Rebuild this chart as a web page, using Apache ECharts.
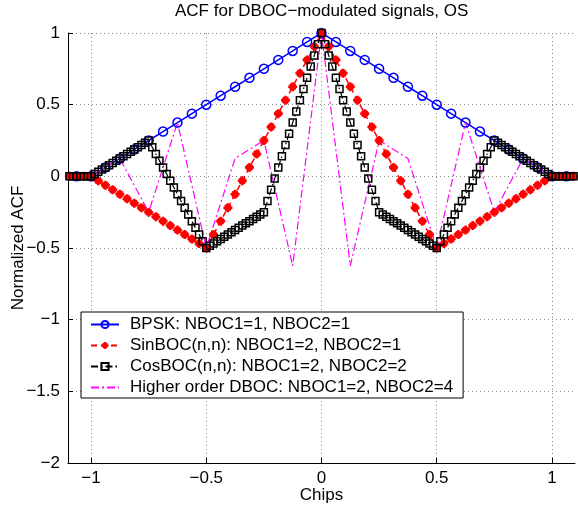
<!DOCTYPE html>
<html>
<head>
<meta charset="utf-8">
<script src="https://cdn.jsdelivr.net/npm/echarts@6/dist/echarts.min.js"></script>
<style>html,body{margin:0;padding:0;background:#fff;}#c{width:578px;height:508px;}</style>
</head>
<body>
<div id="c"></div>
<script>
// ---- data ----
const xTicks = [-1, -0.5, 0, 0.5, 1];

const bpskX = [-1.125, -1.0625, -1, -0.9375, -0.875, -0.8125, -0.75, -0.6875, -0.625, -0.5625, -0.5, -0.4375, -0.375, -0.3125, -0.25, -0.1875, -0.125, -0.0625, 0, 0.0625, 0.125, 0.1875, 0.25, 0.3125, 0.375, 0.4375, 0.5, 0.5625, 0.625, 0.6875, 0.75, 0.8125, 0.875, 0.9375, 1, 1.0625, 1.125];
const bpskY = [0, 0, 0, 0.0625, 0.125, 0.1875, 0.25, 0.3125, 0.375, 0.4375, 0.5, 0.5625, 0.625, 0.6875, 0.75, 0.8125, 0.875, 0.9375, 1, 0.9375, 0.875, 0.8125, 0.75, 0.6875, 0.625, 0.5625, 0.5, 0.4375, 0.375, 0.3125, 0.25, 0.1875, 0.125, 0.0625, 0, 0, 0];

const sinX = [-1.125, -1.09375, -1.0625, -1.03125, -1, -0.96875, -0.9375, -0.90625, -0.875, -0.84375, -0.8125, -0.78125, -0.75, -0.71875, -0.6875, -0.65625, -0.625, -0.59375, -0.5625, -0.53125, -0.5, -0.46875, -0.4375, -0.40625, -0.375, -0.34375, -0.3125, -0.28125, -0.25, -0.21875, -0.1875, -0.15625, -0.125, -0.09375, -0.0625, -0.03125, 0, 0.03125, 0.0625, 0.09375, 0.125, 0.15625, 0.1875, 0.21875, 0.25, 0.28125, 0.3125, 0.34375, 0.375, 0.40625, 0.4375, 0.46875, 0.5, 0.53125, 0.5625, 0.59375, 0.625, 0.65625, 0.6875, 0.71875, 0.75, 0.78125, 0.8125, 0.84375, 0.875, 0.90625, 0.9375, 0.96875, 1, 1.03125, 1.0625, 1.09375, 1.125];
const sinY = [0, 0, 0, 0, 0, -0.03125, -0.0625, -0.09375, -0.125, -0.15625, -0.1875, -0.21875, -0.25, -0.28125, -0.3125, -0.34375, -0.375, -0.40625, -0.4375, -0.46875, -0.5, -0.40625, -0.3125, -0.21875, -0.125, -0.03125, 0.0625, 0.15625, 0.25, 0.34375, 0.4375, 0.53125, 0.625, 0.71875, 0.8125, 0.90625, 1, 0.90625, 0.8125, 0.71875, 0.625, 0.53125, 0.4375, 0.34375, 0.25, 0.15625, 0.0625, -0.03125, -0.125, -0.21875, -0.3125, -0.40625, -0.5, -0.46875, -0.4375, -0.40625, -0.375, -0.34375, -0.3125, -0.28125, -0.25, -0.21875, -0.1875, -0.15625, -0.125, -0.09375, -0.0625, -0.03125, 0, 0, 0, 0, 0];

const cosX = [-1.125, -1.109375, -1.09375, -1.078125, -1.0625, -1.046875, -1.03125, -1.015625, -1, -0.984375, -0.96875, -0.953125, -0.9375, -0.921875, -0.90625, -0.890625, -0.875, -0.859375, -0.84375, -0.828125, -0.8125, -0.796875, -0.78125, -0.765625, -0.75, -0.734375, -0.71875, -0.703125, -0.6875, -0.671875, -0.65625, -0.640625, -0.625, -0.609375, -0.59375, -0.578125, -0.5625, -0.546875, -0.53125, -0.515625, -0.5, -0.484375, -0.46875, -0.453125, -0.4375, -0.421875, -0.40625, -0.390625, -0.375, -0.359375, -0.34375, -0.328125, -0.3125, -0.296875, -0.28125, -0.265625, -0.25, -0.234375, -0.21875, -0.203125, -0.1875, -0.171875, -0.15625, -0.140625, -0.125, -0.109375, -0.09375, -0.078125, -0.0625, -0.046875, -0.03125, -0.015625, 0, 0.015625, 0.03125, 0.046875, 0.0625, 0.078125, 0.09375, 0.109375, 0.125, 0.140625, 0.15625, 0.171875, 0.1875, 0.203125, 0.21875, 0.234375, 0.25, 0.265625, 0.28125, 0.296875, 0.3125, 0.328125, 0.34375, 0.359375, 0.375, 0.390625, 0.40625, 0.421875, 0.4375, 0.453125, 0.46875, 0.484375, 0.5, 0.515625, 0.53125, 0.546875, 0.5625, 0.578125, 0.59375, 0.609375, 0.625, 0.640625, 0.65625, 0.671875, 0.6875, 0.703125, 0.71875, 0.734375, 0.75, 0.765625, 0.78125, 0.796875, 0.8125, 0.828125, 0.84375, 0.859375, 0.875, 0.890625, 0.90625, 0.921875, 0.9375, 0.953125, 0.96875, 0.984375, 1, 1.015625, 1.03125, 1.046875, 1.0625, 1.078125, 1.09375, 1.109375, 1.125];
const cosY = [0, 0, 0, 0, 0, 0, 0, 0, 0,
  0.015625, 0.03125, 0.046875, 0.0625, 0.078125, 0.09375, 0.109375, 0.125, 0.140625, 0.15625, 0.171875, 0.1875, 0.203125, 0.21875, 0.234375,
  0.25,
  0.203125, 0.15625, 0.109375, 0.0625, 0.015625, -0.03125, -0.078125, -0.125, -0.171875, -0.21875, -0.265625, -0.3125, -0.359375, -0.40625, -0.453125,
  -0.5,
  -0.484375, -0.46875, -0.453125, -0.4375, -0.421875, -0.40625, -0.390625, -0.375, -0.359375, -0.34375, -0.328125, -0.3125, -0.296875, -0.28125, -0.265625,
  -0.25,
  -0.171875, -0.09375, -0.015625, 0.0625, 0.140625, 0.21875, 0.296875, 0.375, 0.453125, 0.53125, 0.609375, 0.6875, 0.765625, 0.84375, 0.921875,
  1,
  0.921875, 0.84375, 0.765625, 0.6875, 0.609375, 0.53125, 0.453125, 0.375, 0.296875, 0.21875, 0.140625, 0.0625, -0.015625, -0.09375, -0.171875,
  -0.25,
  -0.265625, -0.28125, -0.296875, -0.3125, -0.328125, -0.34375, -0.359375, -0.375, -0.390625, -0.40625, -0.421875, -0.4375, -0.453125, -0.46875, -0.484375,
  -0.5,
  -0.453125, -0.40625, -0.359375, -0.3125, -0.265625, -0.21875, -0.171875, -0.125, -0.078125, -0.03125, 0.015625, 0.0625, 0.109375, 0.15625, 0.203125,
  0.25,
  0.234375, 0.21875, 0.203125, 0.1875, 0.171875, 0.15625, 0.140625, 0.125, 0.109375, 0.09375, 0.078125, 0.0625, 0.046875, 0.03125, 0.015625,
  0, 0, 0, 0, 0, 0, 0, 0, 0];

const dbocX = [-1.125, -1, -0.875, -0.75, -0.625, -0.5, -0.375, -0.25, -0.125, 0, 0.125, 0.25, 0.375, 0.5, 0.625, 0.75, 0.875, 1, 1.125];
const dbocY = [0, 0, 0.125, -0.25, 0.375, -0.5, 0.125, 0.25, -0.625, 1, -0.625, 0.25, 0.125, -0.5, 0.375, -0.25, 0.125, 0, 0];

const seriesNames = ['BPSK: NBOC1=1, NBOC2=1', 'SinBOC(n,n): NBOC1=2, NBOC2=1', 'CosBOC(n,n): NBOC1=2, NBOC2=2', 'Higher order DBOC: NBOC1=2, NBOC2=4'];

// ---- build chart ----
const pairs = (xs, ys) => xs.map((x, i) => [x, ys[i]]);
const FONT = 'Liberation Sans, Arial, sans-serif';
const minusFmt = v => String(v).replace('-', '\u2212');
const star = 'path://M3.6 0L6.4 0L6.4 10L3.6 10Z M0 3.6L10 3.6L10 6.4L0 6.4Z M0.9 2.9L2.9 0.9L9.1 7.1L7.1 9.1Z M7.1 0.9L9.1 2.9L2.9 9.1L0.9 7.1Z';

const chart = echarts.init(document.getElementById('c'), null, {renderer: 'canvas'});
chart.setOption({
  animation: false,
  backgroundColor: '#fff',
  title: {
    text: 'ACF for DBOC\u2212modulated signals, OS',
    left: 175, top: 3, padding: 0,
    textStyle: {fontFamily: FONT, fontSize: 17, fontWeight: 'normal', color: '#000'}
  },
  grid: {left: 68, right: 3, top: 33, bottom: 45, containLabel: false, outerBoundsMode: 'none'},
  legend: {
    orient: 'vertical', left: 81, top: 312,
    padding: [4, 10, 2, 9],
    itemGap: 4, itemWidth: 28, itemHeight: 9,
    borderColor: '#000', borderWidth: 1, backgroundColor: '#fff',
    textStyle: {fontFamily: FONT, fontSize: 17, color: '#000', padding: [0, 0, 0, 6]},
    data: [
      {name: seriesNames[0]},
      {name: seriesNames[1]},
      {name: seriesNames[2]},
      {name: seriesNames[3], itemStyle: {color: 'rgba(0,0,0,0)', borderWidth: 0, opacity: 0}}
    ]
  },
  xAxis: {
    type: 'value', min: -1.1, max: 1.1,
    name: 'Chips', nameLocation: 'middle', nameGap: 24, nameMoveOverlap: false,
    nameTextStyle: {fontFamily: FONT, fontSize: 17, color: '#000'},
    axisLine: {onZero: false, lineStyle: {color: '#000', width: 1}},
    axisTick: {inside: true, length: 5, customValues: xTicks, lineStyle: {color: '#000'}},
    axisLabel: {customValues: xTicks, formatter: minusFmt, fontFamily: FONT, fontSize: 17, color: '#000', margin: 7},
    splitLine: {show: true, lineStyle: {color: '#888', type: [1, 3], width: 1}}
  },
  yAxis: {
    type: 'value', min: -2, max: 1, interval: 0.5,
    name: 'Normalized ACF', nameLocation: 'middle', nameGap: 41, nameRotate: 90, nameMoveOverlap: false,
    nameTextStyle: {fontFamily: FONT, fontSize: 17, color: '#000'},
    axisLine: {show: true, onZero: false, lineStyle: {color: '#000', width: 1}},
    axisTick: {show: true, inside: true, length: 5, lineStyle: {color: '#000'}},
    axisLabel: {formatter: minusFmt, fontFamily: FONT, fontSize: 17, color: '#000', margin: 8},
    splitLine: {show: true, lineStyle: {color: '#888', type: [1, 3], width: 1}}
  },
  series: [
    {
      name: seriesNames[0], type: 'line', data: pairs(bpskX, bpskY),
      symbol: 'circle', symbolSize: 9, showAllSymbol: true,
      lineStyle: {color: '#0000ff', width: 1.5, type: 'solid'},
      itemStyle: {color: 'rgba(0,0,0,0)', borderColor: '#0000ff', borderWidth: 1.5}
    },
    {
      name: seriesNames[1], type: 'line', data: pairs(sinX, sinY),
      symbol: star, symbolSize: 9, showAllSymbol: true,
      lineStyle: {color: '#ff0000', width: 1.5, type: [6, 4]},
      itemStyle: {color: '#ff0000', borderWidth: 0}
    },
    {
      name: seriesNames[2], type: 'line', data: pairs(cosX, cosY),
      symbol: 'rect', symbolSize: 7, showAllSymbol: true,
      lineStyle: {color: '#000', width: 1.2, type: [7, 3, 1.5, 3]},
      itemStyle: {color: 'rgba(0,0,0,0)', borderColor: '#000', borderWidth: 1.5}
    },
    {
      name: seriesNames[3], type: 'line', data: pairs(dbocX, dbocY),
      symbol: 'none', showSymbol: false,
      lineStyle: {color: '#ff00ff', width: 1.2, type: [8, 3, 2, 3]},
      itemStyle: {color: '#ff00ff'}
    }
  ]
});
</script>
</body>
</html>
